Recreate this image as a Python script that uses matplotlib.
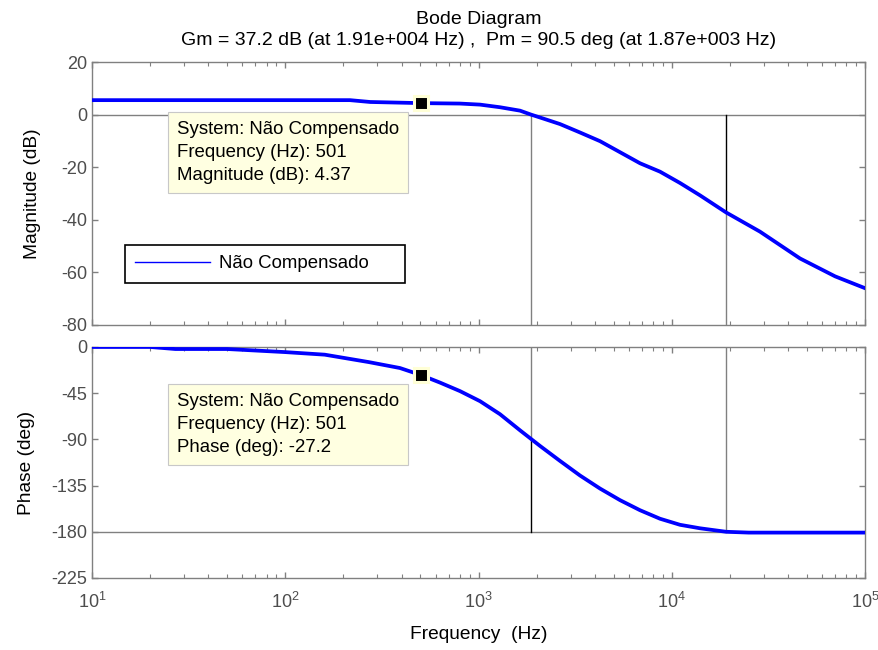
import matplotlib
matplotlib.use('Agg')
import matplotlib.pyplot as plt
from matplotlib.ticker import LogLocator, NullFormatter, FixedLocator

# Frequency response (Hz, dB, deg)
freq_mag = [10, 30, 100, 216, 275, 501, 800, 1018, 1292, 1640, 1870, 2081, 2641,
            3351, 4253, 5398, 6849, 8694, 11030, 14000, 19100, 28600, 46100,
            70000, 100000]
mag_db = [5.5, 5.5, 5.5, 5.5, 4.8, 4.37, 4.2, 3.8, 2.8, 1.5, 0.0, -1.1, -3.6,
          -6.8, -10.1, -14.3, -18.5, -21.7, -26.0, -30.7, -37.2, -44.5, -54.7,
          -61.5, -66.0]

freq_ph = [10, 20, 27, 50, 100, 160, 270, 392, 501, 632, 802, 1018, 1292, 1640,
           2081, 2641, 3351, 4253, 5398, 6849, 8694, 11030, 14000, 19100, 25000,
           100000]
phase_deg = [0, 0, -2, -2, -5, -7.5, -14.7, -20.5, -27.2, -34.7, -43.0, -52.8,
             -65.5, -81.2, -96.4, -111.0, -125.2, -137.9, -149.2, -159.0, -167.3,
             -173.2, -176.6, -180, -180.8, -180.8]

# margins
w_pm = 1870.0      # gain crossover (Hz)
w_gm = 19100.0     # phase crossover (Hz)
gm_mag = -37.2     # magnitude at phase crossover
pm_phase = -89.5   # phase at gain crossover

# data tip
tip_f = 501
tip_mag = 4.37
tip_ph = -27.2

mag_ticks = [20, 0, -20, -40, -60, -80]
ph_ticks = [0, -45, -90, -135, -180, -225]

plt.rcParams['font.family'] = ['Liberation Sans', 'DejaVu Sans']
plt.rcParams['mathtext.default'] = 'regular'
plt.rcParams['axes.unicode_minus'] = False
fs = 13
lfs = 13.8
tfs = 13.4
gray = '#808080'
txtgray = '#4d4d4d'

fig = plt.figure(figsize=(8.79, 6.5), dpi=100)
ax1 = fig.add_axes([0.1047, 0.5, 0.8794, 0.4046])
ax2 = fig.add_axes([0.1047, 0.1108, 0.8794, 0.3554])

for ax in (ax1, ax2):
    ax.set_xscale('log')
    ax.set_xlim(10, 1e5)
    ax.xaxis.set_major_locator(LogLocator(base=10))
    ax.xaxis.set_minor_locator(LogLocator(base=10, subs=range(2, 10)))
    ax.xaxis.set_minor_formatter(NullFormatter())
    ax.tick_params(which='both', direction='in', top=True, right=True, color=gray)
    ax.tick_params(which='major', length=4, width=1, labelsize=fs, labelcolor=txtgray)
    ax.tick_params(which='minor', length=3, width=0.8)
    for s in ax.spines.values():
        s.set_color(gray)
        s.set_linewidth(1.0)

# magnitude
ax1.plot(freq_mag, mag_db, color='#0000ff', linewidth=2.7, label='Não Compensado', zorder=3)
ax1.axhline(0, color=gray, linewidth=1.0, zorder=1)
ax1.plot([w_pm, w_pm], [0, -80], color=gray, linewidth=1.0, zorder=1)
ax1.plot([w_gm, w_gm], [gm_mag, -80], color=gray, linewidth=1.0, zorder=1)
ax1.plot([w_gm, w_gm], [0, gm_mag], color='black', linewidth=1.0, zorder=2)
ax1.set_ylim(-80, 20)
ax1.yaxis.set_major_locator(FixedLocator(mag_ticks))
ax1.tick_params(labelbottom=False)
ax1.set_ylabel('Magnitude (dB)', fontsize=lfs, labelpad=14.5)
ax1.set_title('Bode Diagram\nGm = 37.2 dB (at 1.91e+004 Hz) ,  Pm = 90.5 deg (at 1.87e+003 Hz)',
              fontsize=14, linespacing=1.3, pad=12)

leg = ax1.legend(loc='lower left', bbox_to_anchor=(0.0427, 0.16, 0.362, 0.14), mode='expand',
                 borderaxespad=0, fontsize=tfs, fancybox=False, handlelength=4.0,
                 handletextpad=0.5, borderpad=0.56, framealpha=1)
leg.get_frame().set_edgecolor('black')
leg.get_frame().set_linewidth(1.2)
leg.get_lines()[0].set_linewidth(1.0)

ax1.plot([tip_f], [tip_mag], marker='s', markersize=10.5, color='black',
         markeredgecolor='#ffffd6', markeredgewidth=2.2, zorder=5)
ax1.text(0.11, 0.776, 'System: Não Compensado\nFrequency (Hz): 501\nMagnitude (dB): 4.37',
         transform=ax1.transAxes, fontsize=tfs, va='top', ha='left', linespacing=1.45, zorder=4,
         bbox=dict(boxstyle='square,pad=0.5', facecolor='#ffffe1', edgecolor='#c8c8c8', linewidth=0.8))

# phase
ax2.plot(freq_ph, phase_deg, color='#0000ff', linewidth=2.7, zorder=3)
ax2.axhline(-180, color=gray, linewidth=1.0, zorder=1)
ax2.plot([w_pm, w_pm], [0, pm_phase], color=gray, linewidth=1.0, zorder=1)
ax2.plot([w_pm, w_pm], [pm_phase, -180], color='black', linewidth=1.0, zorder=2)
ax2.plot([w_gm, w_gm], [0, -180], color=gray, linewidth=1.0, zorder=1)
ax2.set_ylim(-225, 0)
ax2.yaxis.set_major_locator(FixedLocator(ph_ticks))
ax2.tick_params(axis='x', pad=10)
ax2.set_ylabel('Phase (deg)', fontsize=lfs, labelpad=11.5)
ax2.set_xlabel('Frequency  (Hz)', fontsize=lfs, labelpad=10)

ax2.plot([tip_f], [tip_ph], marker='s', markersize=10.5, color='black',
         markeredgecolor='#ffffd6', markeredgewidth=2.2, zorder=5)
ax2.text(0.11, 0.80, 'System: Não Compensado\nFrequency (Hz): 501\nPhase (deg): -27.2',
         transform=ax2.transAxes, fontsize=tfs, va='top', ha='left', linespacing=1.45, zorder=4,
         bbox=dict(boxstyle='square,pad=0.5', facecolor='#ffffe1', edgecolor='#c8c8c8', linewidth=0.8))

plt.savefig('out.png', dpi=100)
